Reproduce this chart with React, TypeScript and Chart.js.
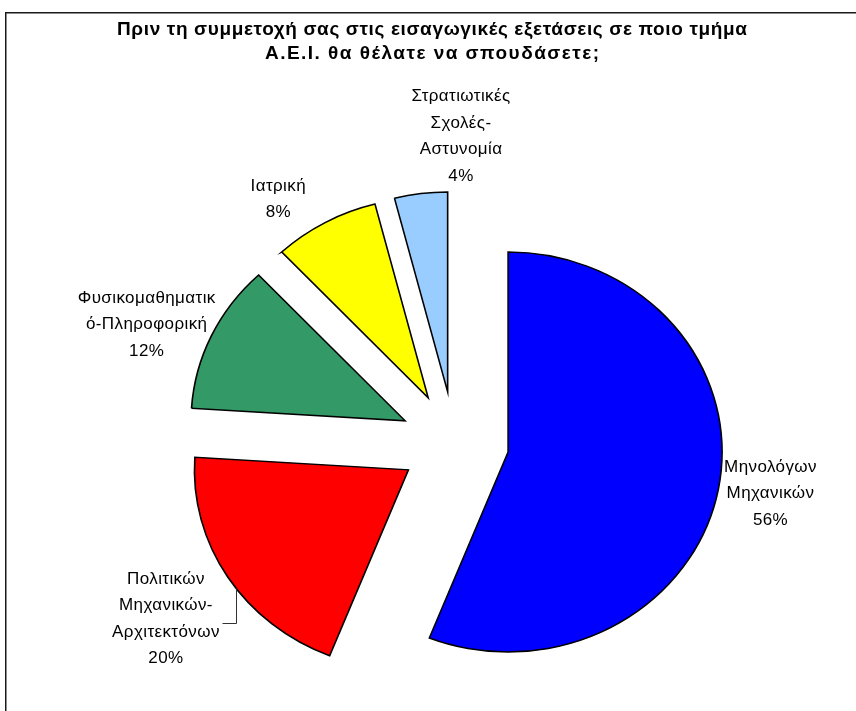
import React, { useEffect, useRef } from "react";
import { Chart, registerables } from "chart.js";

Chart.register(...registerables);

// ---------- data ----------
const categories = [
  "Μηχανολόγων Μηχανικών",
  "Πολιτικών Μηχανικών-Αρχιτεκτόνων",
  "Φυσικομαθηματικό-Πληροφορική",
  "Ιατρική",
  "Στρατιωτικές Σχολές-Αστυνομία",
];
const labelLines = [
  ["Μηνολόγων", "Μηχανικών"],
  ["Πολιτικών", "Μηχανικών-", "Αρχιτεκτόνων"],
  ["Φυσικομαθηματικ", "ό-Πληροφορική"],
  ["Ιατρική"],
  ["Στρατιωτικές", "Σχολές-", "Αστυνομία"],
];
const values = [56, 20, 12, 8, 4];
const colors = ["#0000FF", "#FF0000", "#339966", "#FFFF00", "#99CCFF"];
const titleLines = [
  "Πριν τη συμμετοχή σας στις εισαγωγικές εξετάσεις σε ποιο τμήμα",
  "Α.Ε.Ι. θα θέλατε να σπουδάσετε;",
];

// ---------- layout / style ----------
const W = 856;
const H = 711;
const RADIUS = 200;
const EXPLODE = 51;
const STRETCH_X = 1.07;
const FONT = "'Liberation Sans', Arial, Helvetica, sans-serif";
const TITLE_X = 432;
const TITLE_Y = [30, 54];
const TITLE_WIDTHS = [630, 334];
const TITLE_SIZE = 19;
const LABEL_SIZE = 17;
const LABEL_SPACING = 0.4;
const LABEL_LH = 26.5;
const labelShift = [
  [52, 4],
  [-62, 42],
  [-65, -11],
  [-47, -23],
  [40, -57],
];

const decorPlugin = {
  id: "decor",
  afterDatasetsUpdate(chart: any) {
    const meta = chart.getDatasetMeta(0);
    meta.data.forEach((arc: any) => {
      const mid = (arc.startAngle + arc.endAngle) / 2;
      arc.x += Math.cos(mid) * EXPLODE;
      arc.y += Math.sin(mid) * EXPLODE;
    });
  },
  beforeDatasetsDraw(chart: any) {
    const ctx = chart.ctx;
    const cx = (chart.chartArea.left + chart.chartArea.right) / 2;
    ctx.save();
    ctx.translate(cx, 0);
    ctx.scale(STRETCH_X, 1);
    ctx.translate(-cx, 0);
  },
  afterDatasetsDraw(chart: any) {
    chart.ctx.restore();
  },
  afterDraw(chart: any) {
    const ctx = chart.ctx as CanvasRenderingContext2D;
    const cx = (chart.chartArea.left + chart.chartArea.right) / 2;
    ctx.save();
    // frame
    ctx.strokeStyle = "#1a1a1a";
    ctx.lineWidth = 1.5;
    ctx.beginPath();
    ctx.moveTo(5.75, H + 5);
    ctx.lineTo(5.75, 12.75);
    ctx.lineTo(W + 5, 12.75);
    ctx.stroke();

    // title
    ctx.fillStyle = "#000";
    ctx.textAlign = "center";
    ctx.textBaseline = "middle";
    ctx.font = `bold ${TITLE_SIZE}px ${FONT}`;
    titleLines.forEach((line, i) => {
      (ctx as any).letterSpacing = "0px";
      const w0 = ctx.measureText(line).width;
      const ls = Math.max(0, (TITLE_WIDTHS[i] - w0) / Math.max(1, line.length - 1));
      (ctx as any).letterSpacing = `${ls}px`;
      ctx.fillText(line, TITLE_X + ls / 2, TITLE_Y[i]);
    });

    // labels
    const meta = chart.getDatasetMeta(0);
    const total = values.reduce((a, b) => a + b, 0);
    ctx.font = `${LABEL_SIZE}px ${FONT}`;
    (ctx as any).letterSpacing = `${LABEL_SPACING}px`;
    meta.data.forEach((arc: any, i: number) => {
      const mid = (arc.startAngle + arc.endAngle) / 2;
      const px = cx + STRETCH_X * (arc.x + RADIUS * Math.cos(mid) - cx);
      const py = arc.y + RADIUS * Math.sin(mid);
      const lx = px + labelShift[i][0];
      const ly = py + labelShift[i][1];
      const lines = [...labelLines[i], `${Math.round((values[i] / total) * 100)}%`];
      const top = ly - ((lines.length - 1) / 2) * LABEL_LH;
      lines.forEach((t, j) => {
        ctx.fillText(t, lx + LABEL_SPACING / 2, top + j * LABEL_LH);
      });
      if (i === 1) {
        // leader line
        const a = mid - (4 * Math.PI) / 180;
        const ex = cx + STRETCH_X * (arc.x + RADIUS * Math.cos(a) - cx);
        const ey = arc.y + RADIUS * Math.sin(a);
        const yy = ly + 4;
        ctx.strokeStyle = "#333";
        ctx.lineWidth = 1;
        ctx.beginPath();
        ctx.moveTo(Math.round(ex) + 0.5, ey);
        ctx.lineTo(Math.round(ex) + 0.5, Math.round(yy) + 0.5);
        ctx.lineTo(Math.round(ex) - 14 + 0.5, Math.round(yy) + 0.5);
        ctx.stroke();
      }
    });
    ctx.restore();
  },
};

export default function App() {
  const ref = useRef<HTMLCanvasElement>(null);
  useEffect(() => {
    if (!ref.current) return;
    const chart = new Chart(ref.current, {
      type: "pie",
      data: {
        labels: categories,
        datasets: [
          {
            data: values,
            backgroundColor: colors,
            borderColor: "#000",
            borderWidth: 1.5,
            borderJoinStyle: "miter",
            radius: RADIUS,
            clip: false,
          } as any,
        ],
      },
      options: {
        responsive: false,
        animation: false,
        events: [],
        layout: { padding: { left: 53, right: 0, top: 174, bottom: 0 } },
        plugins: {
          legend: { display: false },
          title: { display: false },
          tooltip: { enabled: false },
        },
      },
      plugins: [decorPlugin],
    });
    return () => chart.destroy();
  }, []);
  return (
    <div style={{ position: "fixed", left: 0, top: 0, width: W, height: H, background: "#fff" }}>
      <canvas ref={ref} width={W} height={H} style={{ display: "block", width: W, height: H }} />
    </div>
  );
}
